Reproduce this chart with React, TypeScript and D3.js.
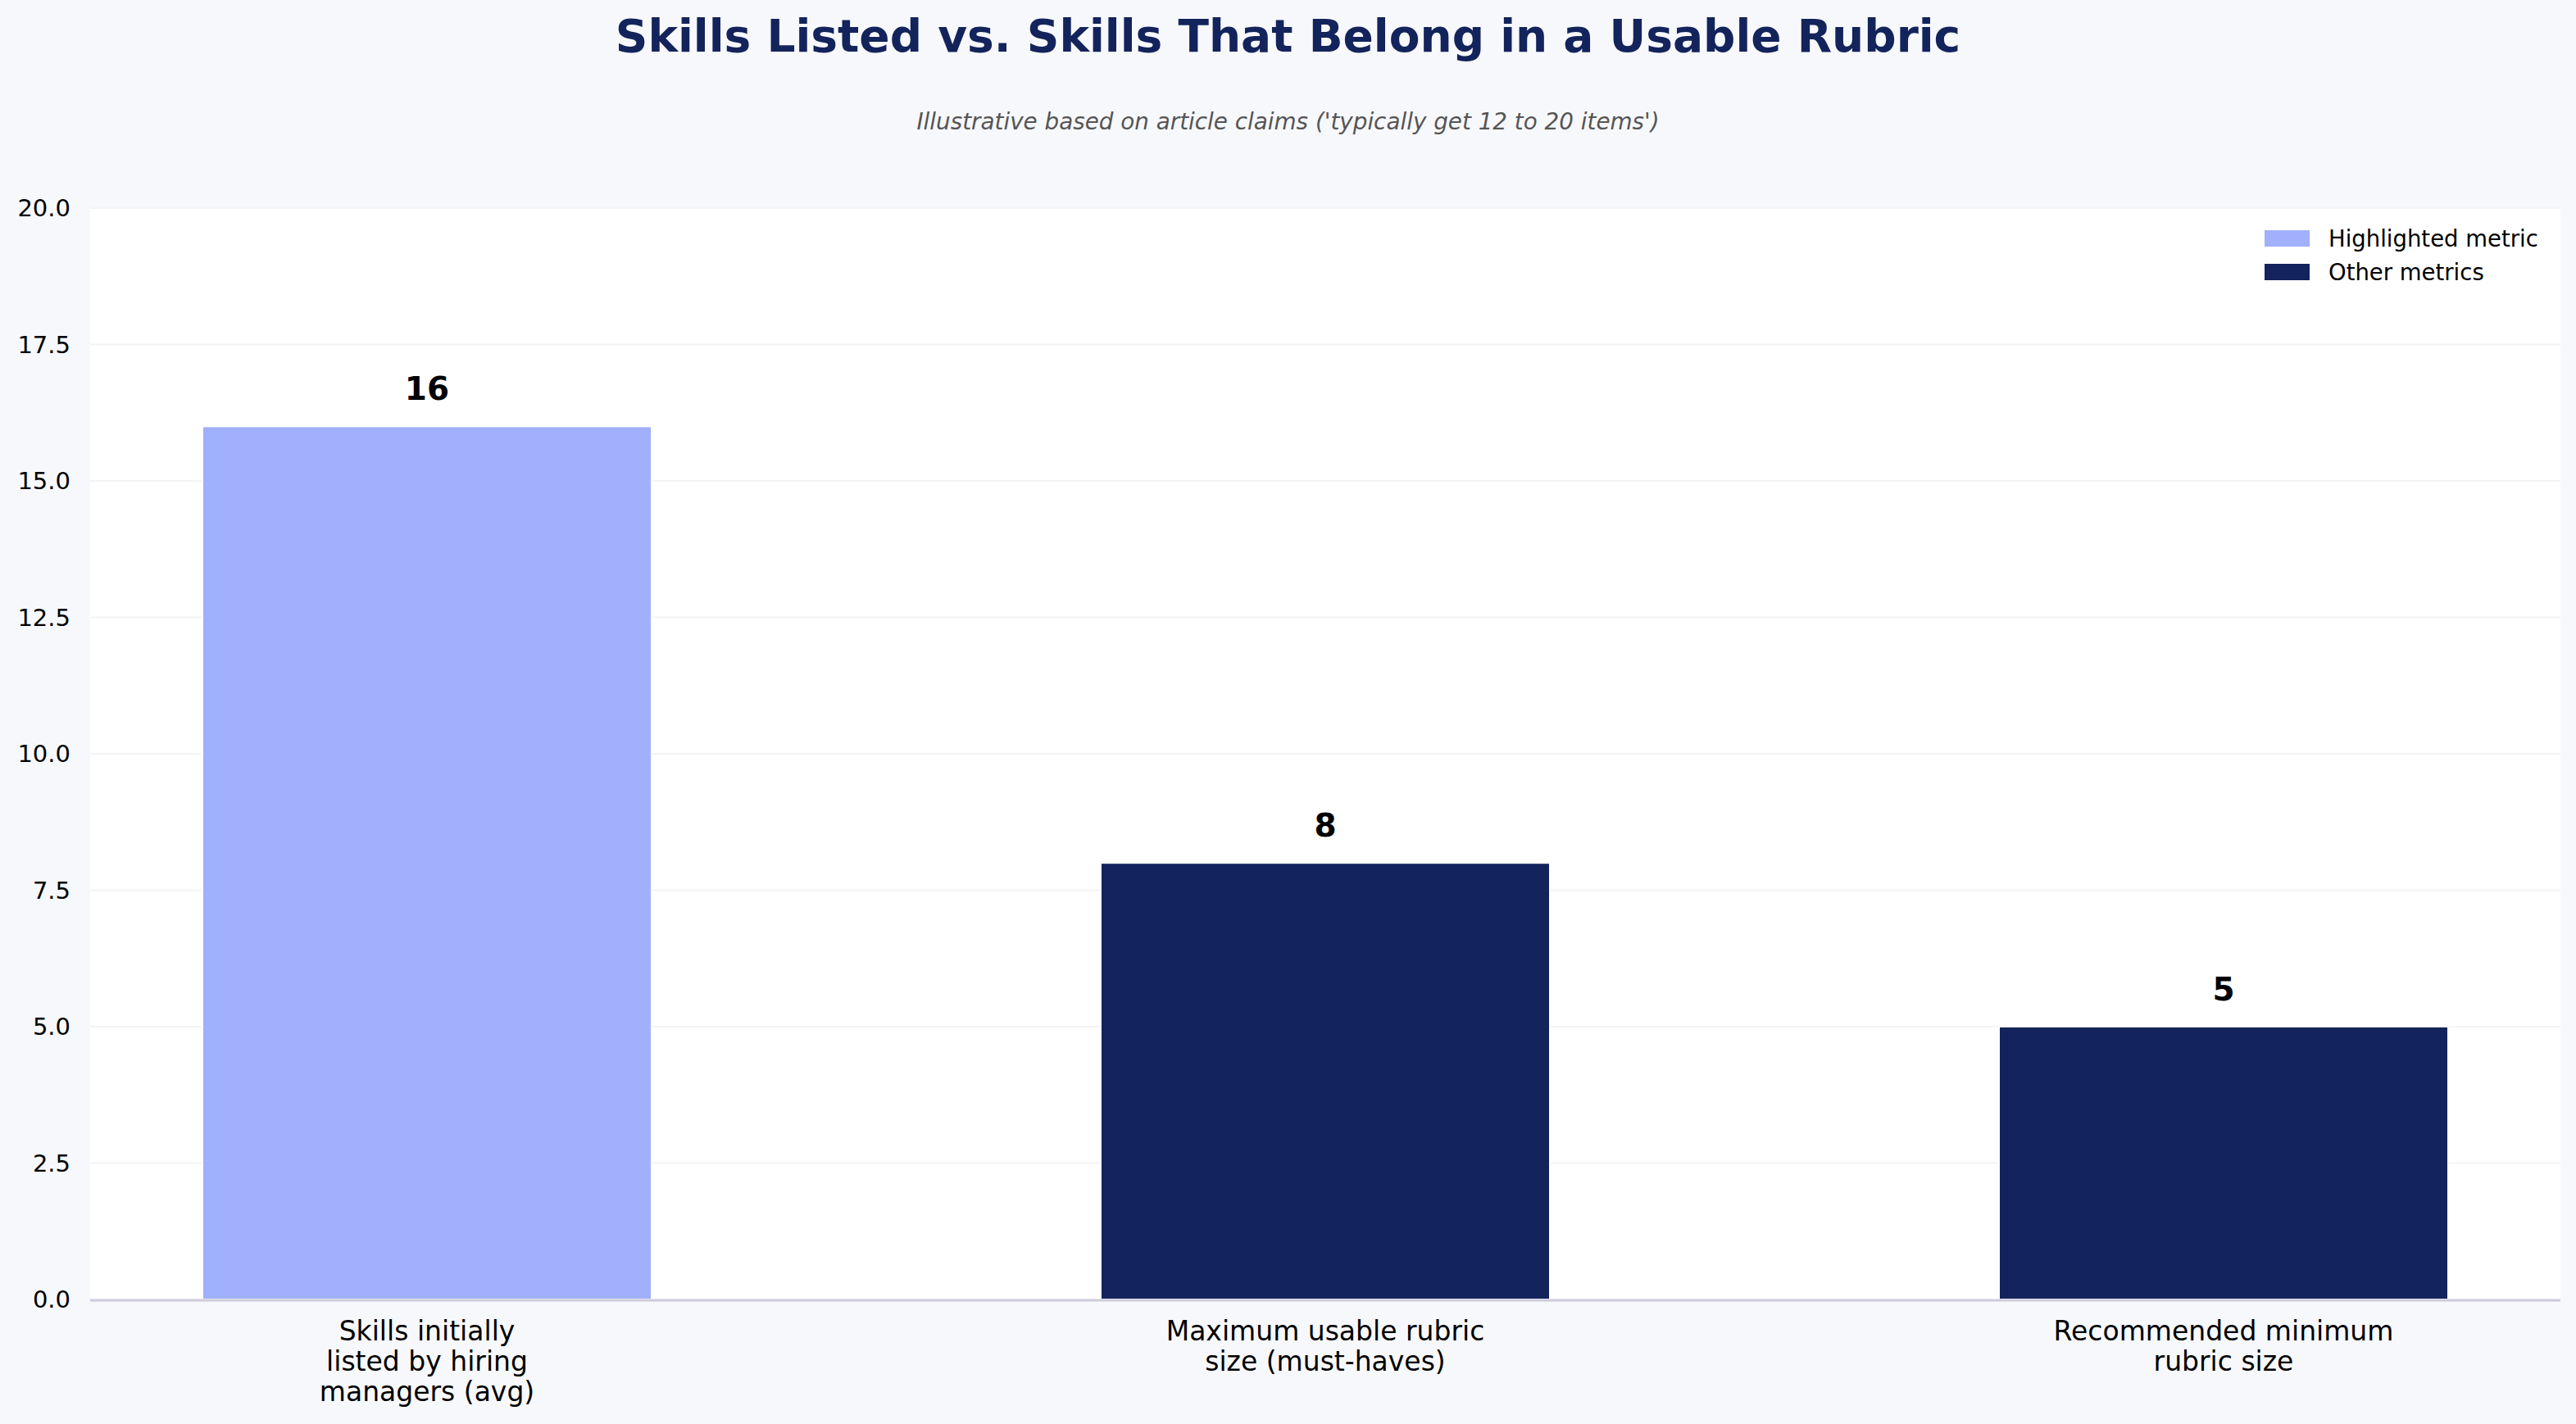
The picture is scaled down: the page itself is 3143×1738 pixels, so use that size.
import { useEffect, useRef } from "react";
import * as d3 from "d3";

const categories = [
  "Skills initially\nlisted by hiring\nmanagers (avg)",
  "Maximum usable rubric\nsize (must-haves)",
  "Recommended minimum\nrubric size",
];
const values = [16, 8, 5];
const highlighted = [true, false, false];
const yTicks = [0, 2.5, 5, 7.5, 10, 12.5, 15, 17.5, 20];
const legendItems = ["Highlighted metric", "Other metrics"];

const W = 3143;
const H = 1738;
const LIGHT = "#a0b0fc";
const NAVY = "#13235b";
const FONT = "DejaVu Sans, sans-serif";

export default function App() {
  const ref = useRef<SVGSVGElement>(null);

  useEffect(() => {
    document.body.style.margin = "0";
    if (!ref.current) return;
    const svg = d3.select(ref.current);
    svg.selectAll("*").remove();

    const m = { left: 110, right: W - 3124, top: 254, bottom: H - 1586 };
    const x = d3.scaleLinear().domain([-0.375, 2.375]).range([m.left, W - m.right]);
    const y = d3.scaleLinear().domain([0, 20]).range([H - m.bottom, m.top]);
    const barW = x(0.5) - x(0);

    svg.append("rect").attr("width", W).attr("height", H).attr("fill", "#f7f8fc");
    svg.append("rect")
      .attr("x", x(-0.375)).attr("y", y(20))
      .attr("width", x(2.375) - x(-0.375)).attr("height", y(0) - y(20))
      .attr("fill", "#ffffff");

    // grid
    svg.append("g")
      .selectAll("line")
      .data(yTicks.slice(1))
      .join("line")
      .attr("x1", x(-0.375)).attr("x2", x(2.375))
      .attr("y1", (d) => y(d)).attr("y2", (d) => y(d))
      .attr("stroke", "#f4f4f6").attr("stroke-width", 2);

    // y tick labels
    svg.append("g")
      .selectAll("text")
      .data(yTicks)
      .join("text")
      .attr("x", 86).attr("y", (d) => y(d))
      .attr("dy", "0.36em")
      .attr("text-anchor", "end")
      .attr("font-family", FONT).attr("font-size", 29).attr("fill", "#000")
      .text((d) => d.toFixed(1));

    // bars
    svg.append("g")
      .selectAll("rect")
      .data(values)
      .join("rect")
      .attr("x", (_, i) => x(i) - barW / 2)
      .attr("y", (d) => y(d))
      .attr("width", barW)
      .attr("height", (d) => y(0) - y(d))
      .attr("fill", (_, i) => (highlighted[i] ? LIGHT : NAVY))
      .attr("stroke", "#ffffff").attr("stroke-width", 2);

    // bottom spine
    svg.append("line")
      .attr("x1", x(-0.375)).attr("x2", x(2.375))
      .attr("y1", y(0) + 1).attr("y2", y(0) + 1)
      .attr("stroke", "#cccadb").attr("stroke-width", 3);

    // value labels
    svg.append("g")
      .selectAll("text")
      .data(values)
      .join("text")
      .attr("x", (_, i) => x(i)).attr("y", (d) => y(d) - 32)
      .attr("text-anchor", "middle")
      .attr("font-family", FONT).attr("font-size", 39).attr("font-weight", "bold").attr("fill", "#000")
      .text((d) => d);

    // category labels
    const cats = svg.append("g")
      .selectAll("text")
      .data(categories)
      .join("text")
      .attr("x", (_, i) => x(i)).attr("y", 1636)
      .attr("text-anchor", "middle")
      .attr("font-family", FONT).attr("font-size", 33).attr("fill", "#000");
    cats.selectAll("tspan")
      .data((d) => d.split("\n"))
      .join("tspan")
      .attr("x", function () { return (this.parentNode as SVGTextElement).getAttribute("x"); })
      .attr("dy", (_, j) => (j === 0 ? 0 : 37))
      .text((d) => d);

    // legend
    const lg = svg.append("g").selectAll("g").data(legendItems).join("g")
      .attr("transform", (_, i) => `translate(2763,${281 + i * 41})`);
    lg.append("rect").attr("width", 55).attr("height", 20)
      .attr("fill", (_, i) => (i === 0 ? LIGHT : NAVY));
    lg.append("text").attr("x", 78).attr("y", 10).attr("dy", "0.36em")
      .attr("font-family", FONT).attr("font-size", 27.5).attr("fill", "#000")
      .text((d) => d);

    // titles
    svg.append("text")
      .attr("x", W / 2).attr("y", 63)
      .attr("text-anchor", "middle")
      .attr("font-family", FONT).attr("font-size", 55).attr("font-weight", "bold").attr("fill", NAVY)
      .text("Skills Listed vs. Skills That Belong in a Usable Rubric");
    svg.append("text")
      .attr("x", W / 2).attr("y", 158)
      .attr("text-anchor", "middle")
      .attr("font-family", FONT).attr("font-size", 27.8).attr("font-style", "italic").attr("fill", "#555555")
      .text("Illustrative based on article claims ('typically get 12 to 20 items')");
  }, []);

  return <svg ref={ref} width={W} height={H} style={{ display: "block" }} />;
}
